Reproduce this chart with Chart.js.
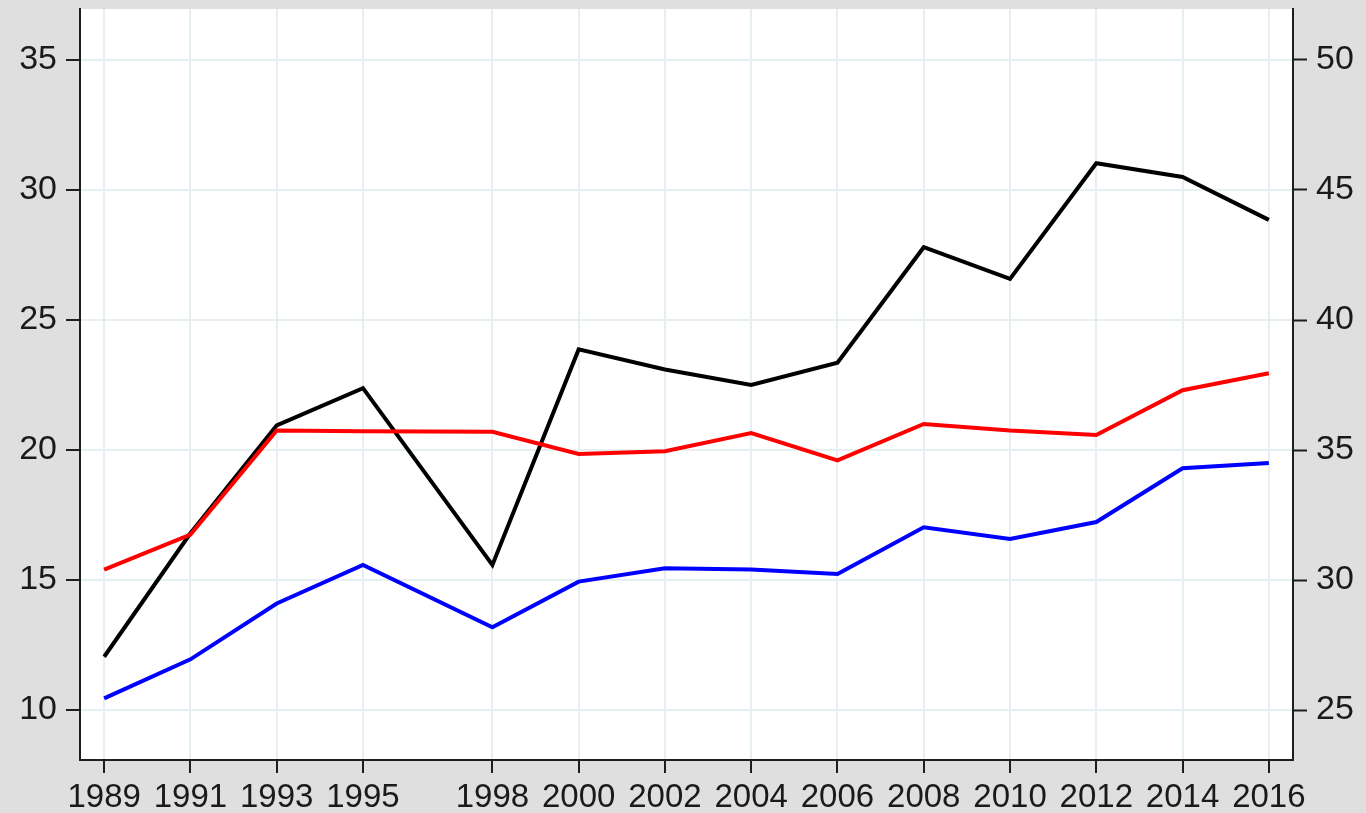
<!DOCTYPE html>
<html>
<head>
<meta charset="utf-8">
<script src="https://cdn.jsdelivr.net/npm/chart.js@4"></script>
<style>
    html, body { margin: 0; padding: 0; background: #dfdfdf; }
    #wrap { width: 1366px; height: 813px; position: relative; }
</style>
</head>
<body>
<div id="wrap"><canvas id="chart"></canvas></div>
<script>
// Survey years (uneven spacing: no 1996/1997 wave)
const years = [1989, 1991, 1993, 1995, 1998, 2000, 2002, 2004, 2006, 2008, 2010, 2012, 2014, 2016];

// Left axis series
const redSeries  = [15.4, 16.75, 20.75, 20.72, 20.7, 19.85, 19.95, 20.65, 19.6, 21.0, 20.75, 20.58, 22.3, 22.95];
const blueSeries = [10.45, 11.95, 14.1, 15.58, 13.18, 14.94, 15.45, 15.41, 15.23, 17.03, 16.58, 17.23, 19.3, 19.5];

// Right axis series
const blackSeries = [27.05, 31.8, 35.95, 37.38, 30.58, 38.87, 38.1, 37.5, 38.36, 42.8, 41.58, 46.03, 45.5, 43.85];

const leftTicks = [10, 15, 20, 25, 30, 35];
const rightTicks = [25, 30, 35, 40, 45, 50];

const AXIS_COLOR = '#1e1e1e';
const TEXT_COLOR = '#1a1a1a';
const GRID_COLOR = '#e6eff1';
const FONT = 'Liberation Sans, Arial, Helvetica, sans-serif';
const PLOT_TOP = 9;

function toPoints(values) {
    return values.map((v, i) => ({ x: years[i], y: v }));
}

// White plotting region on top of the grey page
const plotBackground = {
    id: 'plotBackground',
    beforeDraw(chart) {
        const { ctx, chartArea } = chart;
        ctx.save();
        ctx.fillStyle = '#ffffff';
        ctx.fillRect(chartArea.left, chartArea.top, chartArea.right - chartArea.left, chartArea.bottom - chartArea.top);
        ctx.restore();
    }
};

function fixedTicks(values) {
    return scale => { scale.ticks = values.map(v => ({ value: v })); };
}

// fixed axis width; top labels sit well inside the range so no extra headroom
function fitVertical(width) {
    return scale => {
        scale.width = width;
        scale.paddingTop = PLOT_TOP;
    };
}

const ctx = document.getElementById('chart').getContext('2d');
const chart = new Chart(ctx, {
    type: 'line',
    data: {
        datasets: [
            { label: 'red', data: toPoints(redSeries), borderColor: '#ff0000', yAxisID: 'y' },
            { label: 'blue', data: toPoints(blueSeries), borderColor: '#0000ff', yAxisID: 'y' },
            { label: 'black', data: toPoints(blackSeries), borderColor: '#000000', yAxisID: 'y1' }
        ]
    },
    options: {
        responsive: true,
        maintainAspectRatio: false,
        animation: false,
        devicePixelRatio: 1,
        layout: { padding: { top: PLOT_TOP, left: 0, right: 0, bottom: 0 } },
        elements: {
            line: { borderWidth: 4, tension: 0, fill: false, borderJoinStyle: 'miter' },
            point: { radius: 0, hoverRadius: 0 }
        },
        plugins: {
            legend: { display: false },
            title: { display: false },
            tooltip: { enabled: false }
        },
        scales: {
            x: {
                type: 'linear',
                min: 1988.44,
                max: 2016.56,
                afterBuildTicks: fixedTicks(years),
                afterFit: scale => { scale.height = 53; },
                border: { display: true, color: AXIS_COLOR, width: 2 },
                grid: {
                    color: GRID_COLOR,
                    lineWidth: 2,
                    drawTicks: true,
                    tickLength: 13,
                    tickColor: AXIS_COLOR,
                    tickWidth: 2
                },
                ticks: {
                    autoSkip: false,
                    maxRotation: 0,
                    padding: 5,
                    color: TEXT_COLOR,
                    font: { family: FONT, size: 33 },
                    callback: v => String(v)
                }
            },
            y: {
                position: 'left',
                min: 8.08,
                max: 36.96,
                afterBuildTicks: fixedTicks(leftTicks),
                afterFit: fitVertical(80),
                border: { display: true, color: AXIS_COLOR, width: 2 },
                grid: {
                    color: GRID_COLOR,
                    lineWidth: 2,
                    drawTicks: true,
                    tickLength: 14,
                    tickColor: AXIS_COLOR,
                    tickWidth: 2
                },
                ticks: {
                    padding: 9,
                    color: TEXT_COLOR,
                    font: { family: FONT, size: 34 }
                }
            },
            y1: {
                position: 'right',
                min: 23.08,
                max: 51.96,
                afterBuildTicks: fixedTicks(rightTicks),
                afterFit: fitVertical(73),
                border: { display: true, color: AXIS_COLOR, width: 2 },
                grid: {
                    display: true,
                    drawOnChartArea: false,
                    drawTicks: true,
                    tickLength: 14,
                    tickColor: AXIS_COLOR,
                    tickWidth: 2
                },
                ticks: {
                    padding: 9,
                    color: TEXT_COLOR,
                    font: { family: FONT, size: 34 }
                }
            }
        }
    },
    plugins: [plotBackground]
});
</script>
</body>
</html>
